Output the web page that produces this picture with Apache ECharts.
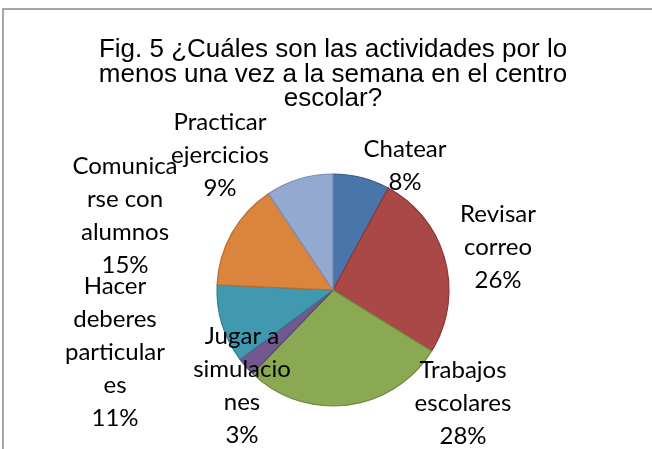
<!DOCTYPE html>
<html>
<head>
<meta charset="utf-8">
<script src="https://cdn.jsdelivr.net/npm/echarts@6/dist/echarts.min.js"></script>
<style>
  html, body { margin: 0; padding: 0; background: #fff; }
  #grafica { width: 652px; height: 449px; }
</style>
</head>
<body>
<div id="grafica"></div>
<script>
// Actividades (en el orden del gráfico, empezando arriba y en sentido horario)
const actividades = [
  'Chatear',
  'Revisar correo',
  'Trabajos escolares',
  'Jugar a simulaciones',
  'Hacer deberes particulares',
  'Comunicarse con alumnos',
  'Practicar ejercicios'
];
// Texto de las etiquetas tal como aparece cortado en el original
const etiquetas = [
  'Chatear',
  'Revisar\ncorreo',
  'Trabajos\nescolares',
  'Jugar a\nsimulacio\nnes',
  'Hacer\ndeberes\nparticular\nes',
  'Comunica\nrse con\nalumnos',
  'Practicar\nejercicios'
];
// Porcentajes
const porcentajes = [7.9, 25.9, 28.4, 2.6, 10.9, 14.9, 9.4];

const colores = ['#4A75AA', '#A94846', '#8BA852', '#71588F', '#4199B0', '#DB843D', '#93A9CF'];
const bordes  = ['#3B5F8D', '#8A3836', '#708A40', '#5B4676', '#347D90', '#B86C30', '#7A8EB2'];

document.addEventListener('DOMContentLoaded', () => {
  const chart = echarts.init(document.getElementById('grafica'));

  const cx = 333, cy = 290;
  // desplazamiento del centro de cada etiqueta respecto al centro del pastel
  const despl = [[72, -124], [165, -43], [130, 113], [-91, 96], [-218, 62], [-208, -74], [-113, -135]];

  const total = porcentajes.reduce((a, b) => a + b, 0);

  chart.setOption({
    animation: false,
    title: {
      text: 'Fig. 5 ¿Cuáles son las actividades por lo\nmenos una vez a la semana en el centro\nescolar?',
      left: 328,
      top: 33,
      textAlign: 'center',
      textStyle: {
        fontFamily: 'Liberation Sans',
        fontSize: 26,
        fontWeight: 'normal',
        color: '#000',
        lineHeight: 24.5
      }
    },
    graphic: [{
      type: 'rect',
      shape: { x: 3, y: 9, width: 700, height: 500 },
      style: { fill: 'none', stroke: '#8a8a8a', lineWidth: 1.5 },
      silent: true
    }],
    series: [{
      type: 'pie',
      center: [cx, cy],
      radius: 116,
      startAngle: 90,
      clockwise: true,
      label: {
        show: true,
        position: 'outside',
        formatter: p => etiquetas[p.dataIndex] + '\n' + Math.round(p.value / total * 100) + '%',
        fontFamily: 'Lato',
        fontSize: 24,
        lineHeight: 33,
        color: '#000',
        align: 'center'
      },
      labelLine: { show: false },
      labelLayout: p => ({
        x: cx + despl[p.dataIndex][0],
        y: cy + despl[p.dataIndex][1],
        align: 'center',
        verticalAlign: 'middle'
      }),
      data: actividades.map((a, i) => ({
        name: a,
        value: porcentajes[i],
        itemStyle: { color: colores[i], borderColor: bordes[i], borderWidth: 1.2 }
      }))
    }]
  });
});
</script>
</body>
</html>
